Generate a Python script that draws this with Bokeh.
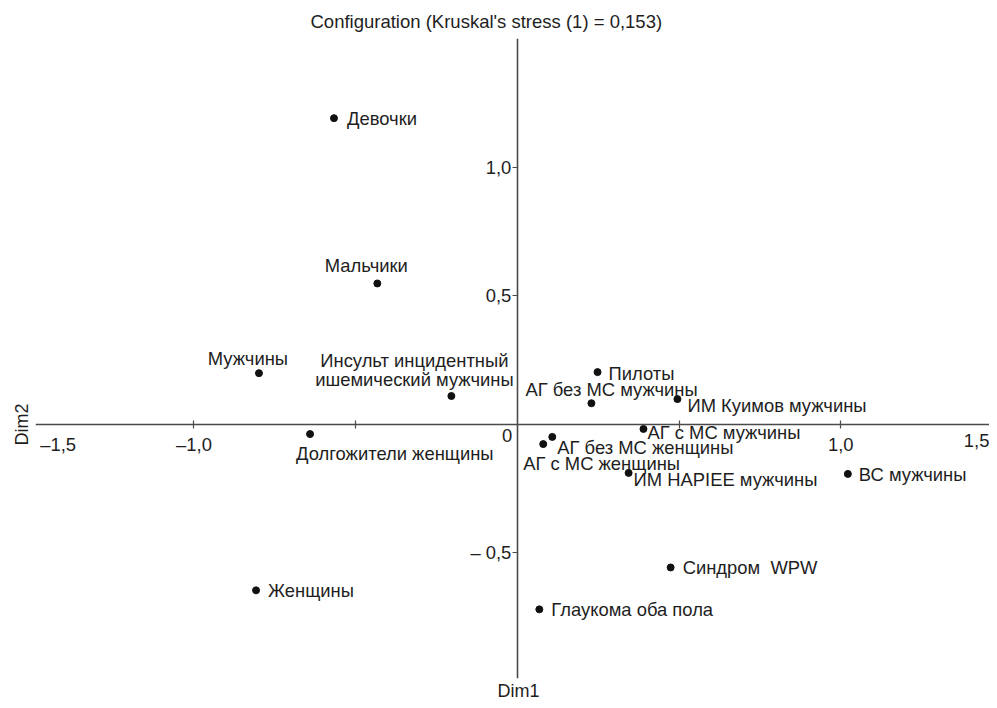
from bokeh.plotting import figure
from bokeh.models import (Range1d, FixedTicker, CustomJSTickFormatter, Label,
                          ColumnDataSource, Title)
from bokeh.core.properties import value
from bokeh.embed import file_html
from bokeh.resources import INLINE

# ---- data ----
names = [
    "Девочки", "Мальчики", "Мужчины",
    "Инсульт инцидентный\nишемический мужчины",
    "Долгожители женщины", "Пилоты", "АГ без МС мужчины",
    "ИМ Куимов мужчины", "АГ с МС мужчины", "АГ без МС женщины",
    "АГ с МС женщины", "ИМ HAPIEE мужчины", "ВС мужчины",
    "Синдром\u00a0 WPW", "Женщины", "Глаукома оба пола",
]
dim1 = [-0.567, -0.433, -0.799, -0.204, -0.641, 0.248, 0.229, 0.495,
        0.390, 0.108, 0.080, 0.344, 1.022, 0.474, -0.808, 0.068]
dim2 = [1.190, 0.547, 0.198, 0.109, -0.039, 0.202, 0.081, 0.097,
        -0.019, -0.050, -0.078, -0.190, -0.194, -0.558, -0.647, -0.721]

x_ticks = [-1.5, -1.0, -0.5, 0.5, 1.0, 1.5]
y_ticks = [-0.5, 0.5, 1.0]
title_text = "Configuration (Kruskal's stress (1) = 0,153)"

# ---- label placement (style only: alignment and pixel offsets) ----
lab_align = ["left", "center", "center", "center", "left", "left", "left",
             "left", "left", "left", "left", "left", "left", "left", "left",
             "left"]
lab_dx = [13, -11, -11, -37, -14, 11, -66, 10, 4, 5, -20, 5, 11, 12, 12, 12]
lab_dy = [0, -18, -15, -26, 19, 1, -14, 6, 4, 11, 19, 7, 1, 0, 0, 0]

FONT = "Liberation Sans"
FS = "18.4px"
TXT = "#1e1e1e"
AX = "#4a4a4a"

p = figure(width=989, height=700,
           x_range=Range1d(-1.49, 1.46), y_range=Range1d(-0.99, 1.5),
           output_backend="svg", toolbar_location=None,
           min_border_left=35, min_border_right=0,
           min_border_top=38, min_border_bottom=21)
p.outline_line_color = None
p.grid.visible = False
p.background_fill_color = "white"

p.title.text = title_text
p.title.align = "left"
p.title.offset = 275
p.title.text_font = FONT
p.title.text_font_size = "18.5px"
p.title.text_font_style = "normal"
p.title.text_color = TXT
p.title.standoff = 13

xa = p.xaxis[0]
xa.fixed_location = 0
xa.ticker = FixedTicker(ticks=x_ticks)
xa.formatter = CustomJSTickFormatter(code="""
    if (Math.abs(tick) < 0.75 || Math.abs(tick) > 1.25) return '';
    const s = Math.abs(tick).toFixed(1).replace('.', ',');
    return tick < 0 ? '\u2013' + s : s;
""")
xa.major_tick_in = 4
xa.major_tick_out = 4
xa.minor_tick_line_color = None
xa.major_label_standoff = 6

ya = p.yaxis[0]
ya.fixed_location = 0
ya.ticker = FixedTicker(ticks=y_ticks)
ya.formatter = CustomJSTickFormatter(code="""
    const s = Math.abs(tick).toFixed(1).replace('.', ',');
    return tick < 0 ? '\u2013 ' + s : s;
""")
ya.major_tick_in = 0
ya.major_tick_out = 5
ya.minor_tick_line_color = None
ya.major_label_standoff = 1

for ax in (xa, ya):
    ax.axis_line_color = AX
    ax.axis_line_width = 1.6
    ax.major_tick_line_color = AX
    ax.major_tick_line_width = 1.2
    ax.major_label_text_font = FONT
    ax.major_label_text_font_size = FS
    ax.major_label_text_color = TXT

src = ColumnDataSource(dict(x=dim1, y=dim2, name=names, align=lab_align,
                            dx=lab_dx, dy=lab_dy))
p.scatter("x", "y", source=src, size=7, color="#111111")
p.text("x", "y", text="name", source=src, x_offset="dx", y_offset="dy",
       text_align="align", text_baseline="middle",
       text_font=value(FONT), text_font_size=FS, text_color=TXT,
       text_line_height=0.9)

def lab(**kw):
    base = dict(text_font=FONT, text_font_size=FS, text_color=TXT)
    base.update(kw)
    p.add_layout(Label(**base))

# edge tick labels and origin label
lab(x=x_ticks[0], y=0, text="\u20131,5", text_align="left",
    text_baseline="top", x_offset=8, y_offset=-10)
lab(x=x_ticks[-1], y=0, text="1,5", text_align="right",
    text_baseline="top", x_offset=-13, y_offset=-10)
lab(x=0, y=0, text="0", text_align="right", text_baseline="top",
    x_offset=-5, y_offset=-5)

# axis names
p.add_layout(Title(text="Dim1", align="left", offset=462, standoff=0,
                   text_font=FONT, text_font_size="18px",
                   text_font_style="normal", text_color=TXT), "below")
p.add_layout(Title(text="Dim2", align="left", offset=233, standoff=8,
                   text_font=FONT, text_font_size="18px",
                   text_font_style="normal", text_color=TXT), "left")

open("out.html", "w").write(file_html(p, INLINE))
